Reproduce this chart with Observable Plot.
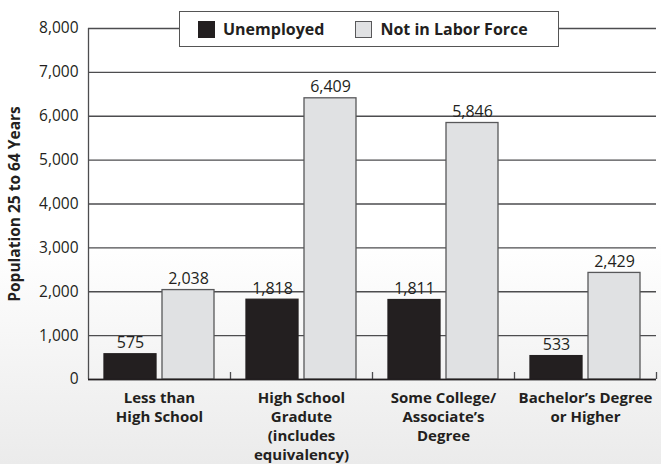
<!DOCTYPE html>
<html>
<head>
<meta charset="utf-8">
<script src="https://cdn.jsdelivr.net/npm/d3@7"></script>
<script src="https://cdn.jsdelivr.net/npm/@observablehq/plot@0.6"></script>
<style>
  html, body { margin: 0; padding: 0; }
  body {
    width: 661px; height: 464px; overflow: hidden;
    background: linear-gradient(to bottom, #ffffff 0%, #ffffff 52%, #ebebeb 100%);
    font-family: "Open Sans", sans-serif;
  }
  #wrap { position: relative; width: 661px; height: 464px; }
  #legend {
    position: absolute; left: 179px; top: 11px; width: 378px; height: 34px;
    border: 1.5px solid #555; background: #fff; box-sizing: content-box;
    display: flex; align-items: center; font-weight: 700; font-size: 16px; color: #231f20;
  }
  #legend .sw { width: 17px; height: 17px; box-sizing: border-box; margin-right: 8px; }
  #legend .item { display: flex; align-items: center; }
  g[aria-label="y-axis label"] text { font-weight: 700; }
</style>
</head>
<body>
<div id="wrap"></div>
<script>
const categories = [
  "Less than\nHigh School",
  "High School\nGradute\n(includes\nequivalency)",
  "Some College/\nAssociate’s\nDegree",
  "Bachelor’s Degree\nor Higher"
];
const series = ["Unemployed", "Not in Labor Force"];
const unemployed = [575, 1818, 1811, 533];
const notInLaborForce = [2038, 6409, 5846, 2429];
const yTicks = [0, 1000, 2000, 3000, 4000, 5000, 6000, 7000, 8000];
const colors = ["#231f20", "#e0e1e3"];
const strokes = ["#231f20", "#58585a"];

const data = [];
categories.forEach((c, i) => {
  data.push({category: c, series: series[0], value: unemployed[i]});
  data.push({category: c, series: series[1], value: notInLaborForce[i]});
});

const fmt = d3.format(",");

const chart = Plot.plot({
  width: 661,
  height: 464,
  marginLeft: 88,
  marginRight: 5,
  marginTop: 28,
  marginBottom: 85,
  style: {background: "transparent", fontFamily: "Open Sans, sans-serif", color: "#231f20", overflow: "visible"},
  fx: {domain: categories, padding: 0, label: null},
  x: {domain: series, paddingInner: 0.103, paddingOuter: 0.2755, axis: null},
  y: {domain: [0, 8000], label: "Population 25 to 64 Years"},
  color: {domain: series, range: colors},
  marks: [
    Plot.gridY(yTicks, {stroke: "#4d4d4f", strokeOpacity: 1, strokeWidth: 1.3}),
    Plot.ruleX([categories[0]], {fx: d => d, x: () => series[0], dx: -42, y1: 0, y2: 8000, stroke: "#4d4d4f", strokeWidth: 1.3}),
    Plot.ruleX(categories, {fx: d => d, x: () => series[1], dx: 42, y1: 0, y2: 160, stroke: "#4d4d4f", strokeWidth: 1.3}),
    Plot.barY(data, {fx: "category", x: "series", y: "value", fill: "series",
      stroke: d => strokes[series.indexOf(d.series)], strokeWidth: 1.3}),
    Plot.ruleY([0], {stroke: "#231f20", strokeWidth: 1.6}),
    Plot.text(data, {fx: "category", x: "series", y: "value", text: d => fmt(d.value),
      dy: -11, fontSize: 16, fill: "#231f20"}),
    Plot.axisY(yTicks, {tickSize: 0, tickPadding: 10, tickFormat: fmt, fontSize: 15.5,
      label: "Population 25 to 64 Years", labelAnchor: "center", labelOffset: 80, labelArrow: "none"}),
    Plot.axisFx({anchor: "bottom", tickSize: 0, tickPadding: 10, label: null, fontSize: 15,
      fontWeight: "bold", lineHeight: 1.27, textAnchor: "middle"})
  ]
});

const wrap = document.getElementById("wrap");
wrap.appendChild(chart);

const legend = document.createElement("div");
legend.id = "legend";
series.forEach((s, i) => {
  const item = document.createElement("div");
  item.className = "item";
  item.style.marginLeft = i === 0 ? "18px" : "31px";
  const sw = document.createElement("div");
  sw.className = "sw";
  sw.style.background = colors[i];
  sw.style.border = "1px solid " + strokes[i];
  const t = document.createElement("span");
  t.textContent = s;
  item.appendChild(sw);
  item.appendChild(t);
  legend.appendChild(item);
});
wrap.appendChild(legend);
</script>
</body>
</html>
